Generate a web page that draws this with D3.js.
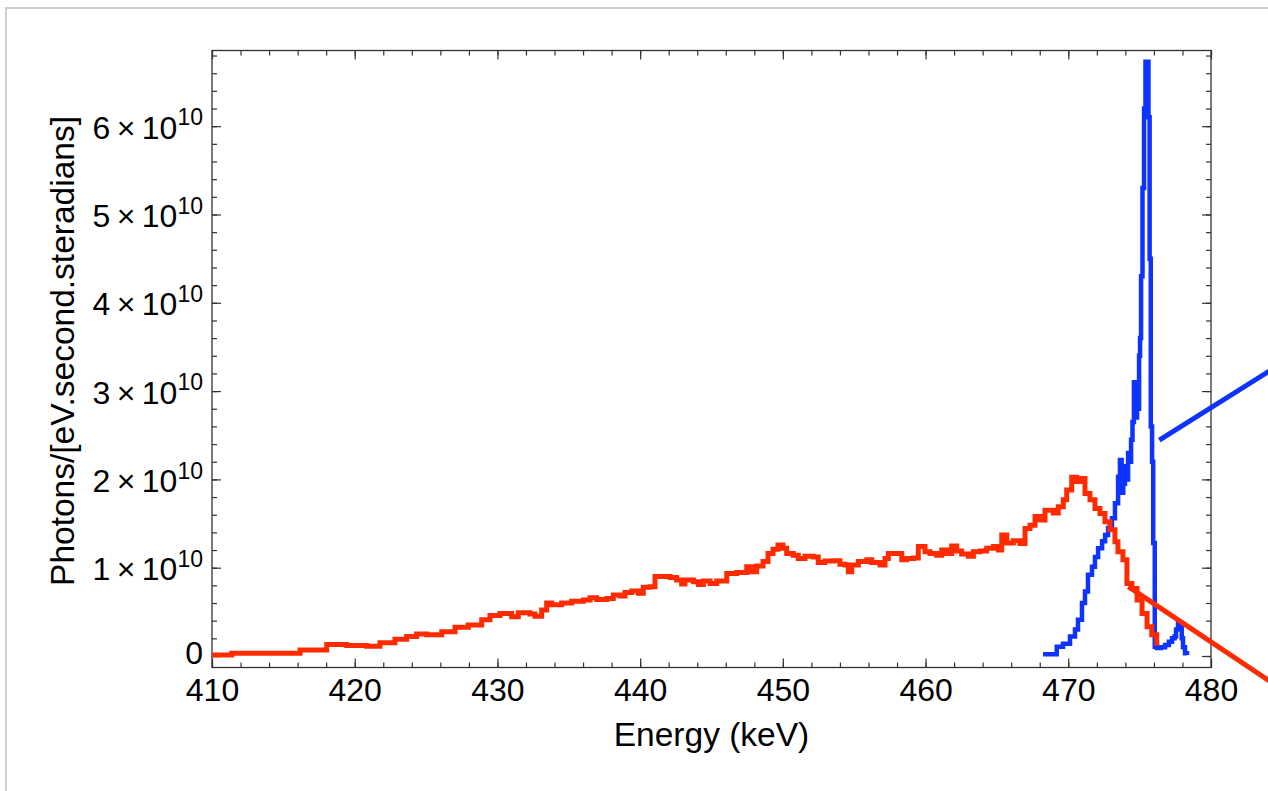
<!DOCTYPE html>
<html>
<head>
<meta charset="utf-8">
<script src="https://cdn.jsdelivr.net/npm/d3@7"></script>
<style>
  body { margin: 0; background: #fff; }
  svg { display: block; }
  text { font-family: "Liberation Sans", Arial, Helvetica, sans-serif; fill: #000; }
</style>
</head>
<body>
<svg id="chart" width="1268" height="791"></svg>
<script>
// ---- Data (photon intensities in units of 1e10 photons/[eV.second.steradians]) ----
// Broad spectrum: step histogram, each energy is the left edge of a bin (keV)
const redEnergy = [410.0, 411.38, 416.17, 418.04, 419.44, 420.84, 421.77, 422.82, 423.64, 424.34,
  425.04, 426.1, 427.03, 427.96, 428.9, 429.48, 430.18, 431.0, 431.46, 432.28,
  432.63, 433.1, 433.45, 433.8, 434.5, 435.2, 436.02, 436.49, 436.96, 437.66,
  438.12, 438.59, 438.94, 439.41, 439.87, 440.22, 440.69, 441.04, 442.09, 442.56,
  442.91, 443.14, 443.73, 444.08, 444.43, 444.9, 445.37, 446.07, 446.77, 447.47,
  447.82, 448.17, 448.61, 448.96, 449.31, 449.66, 450.01, 450.27, 450.73, 451.08,
  451.55, 452.13, 452.48, 452.95, 453.54, 454.0, 454.36, 454.59, 454.83, 455.29,
  455.88, 456.23, 456.81, 457.16, 457.39, 458.33, 458.68, 459.14, 459.49, 459.96,
  460.31, 460.78, 461.13, 461.48, 461.83, 462.18, 462.53, 463.0, 463.35, 463.81,
  464.28, 464.75, 465.1, 465.34, 465.69, 466.15, 466.62, 466.97, 467.32, 467.67,
  468.02, 468.37, 468.95, 469.3, 469.65, 469.89, 470.24, 470.59, 470.94, 471.17,
  471.52, 471.87, 472.22, 472.57, 472.92, 473.27, 473.48, 473.83, 474.11, 474.46,
  474.82, 475.17, 475.52, 475.85, 476.2];
const redPhotons = [0.01, 0.03, 0.068, 0.13, 0.12, 0.11, 0.15, 0.19, 0.22, 0.25,
  0.24, 0.275, 0.325, 0.35, 0.41, 0.46, 0.48, 0.445, 0.49, 0.475,
  0.45, 0.52, 0.6, 0.58, 0.6, 0.62, 0.635, 0.66, 0.64, 0.65,
  0.69, 0.68, 0.72, 0.735, 0.71, 0.78, 0.785, 0.9, 0.89, 0.86,
  0.815, 0.86, 0.84, 0.81, 0.85, 0.82, 0.85, 0.935, 0.945, 1.01,
  0.955, 1.02, 1.07, 1.16, 1.21, 1.257, 1.22, 1.16, 1.14, 1.105,
  1.13, 1.12, 1.06, 1.075, 1.08, 1.04, 1.03, 0.955, 1.03, 1.07,
  1.09, 1.06, 1.03, 1.105, 1.16, 1.09, 1.105, 1.11, 1.24, 1.18,
  1.16, 1.14, 1.2, 1.16, 1.245, 1.19, 1.155, 1.13, 1.18, 1.19,
  1.22, 1.24, 1.2, 1.37, 1.28, 1.305, 1.275, 1.445, 1.48, 1.58,
  1.54, 1.65, 1.62, 1.69, 1.77, 1.88, 2.025, 1.975, 2.01, 1.84,
  1.77, 1.67, 1.615, 1.52, 1.43, 1.295, 1.18, 1.09, 0.82, 0.765,
  0.635, 0.48, 0.33, 0.24, 0.12];

// Narrow spectrum near the upper edge
const blueEnergy = [468.23, 469.19, 469.63, 470.12, 470.47, 470.68, 470.96, 471.17, 471.38, 471.66,
  471.87, 472.09, 472.37, 472.58, 472.79, 473.06, 473.27, 473.49, 473.62, 473.74,
  473.85, 473.97, 474.1, 474.19, 474.3, 474.4, 474.5, 474.6, 474.7, 474.82,
  474.9, 474.96, 475.03, 475.1, 475.2, 475.31, 475.41, 475.55, 475.62, 475.7,
  475.78, 475.87, 475.95, 476.06, 476.22, 476.5, 476.78, 477.05, 477.27, 477.45,
  477.55, 477.69, 477.83, 477.95, 478.04, 478.18, 478.32];
const bluePhotons = [0.02, 0.105, 0.14, 0.22, 0.3, 0.41, 0.6, 0.73, 0.92, 1.01,
  1.12, 1.22, 1.3, 1.37, 1.45, 1.56, 1.73, 2.03, 2.22, 1.85,
  1.95, 2.15, 2.0, 2.3, 2.2, 2.45, 2.65, 3.1, 2.7, 3.1,
  2.8, 3.4, 3.6, 4.3, 5.3, 6.2, 6.73, 6.73, 6.1, 4.5,
  2.6, 2.2, 1.28, 0.105, 0.09, 0.1, 0.125, 0.16, 0.2, 0.22,
  0.3, 0.37, 0.37, 0.2, 0.1, 0.03, 0.01];

// Leader lines running off to the right of the frame: [energy, photons] end points
const blueLeader = [[476.38, 2.446], [485.0, 3.32]];
const redLeader = [[474.21, 0.785], [485.0, -0.38]];

// Axis ticks
const xMajorTicks = [410, 420, 430, 440, 450, 460, 470, 480];
const xMinorTicks = d3.range(410, 480.1, 2);
const yMajorTicks = [0, 1, 2, 3, 4, 5, 6];
const yMinorTicks = d3.range(0, 6.85, 0.2);
const yExponent = "10";

const xDomain = [410, 480];
const yDomain = [-0.1302, 6.857];

// ---- Layout ----
const svg = d3.select("#chart");
const plotLeft = 212, plotRight = 1211, plotTop = 50.5, plotBottom = 667.5;
const tickFont = 32, titleFont = 33.5;

const x = d3.scaleLinear().domain(xDomain).range([plotLeft, plotRight]);
const y = d3.scaleLinear().domain(yDomain).range([plotBottom, plotTop]);

// outer light frame
svg.append("rect")
  .attr("x", 6).attr("y", 8).attr("width", 1400).attr("height", 1000)
  .attr("fill", "none").attr("stroke", "#cfcfcf").attr("stroke-width", 2);

const axisColor = "#333";

function styleAxis(g) {
  g.select(".domain").remove();
  g.selectAll(".tick line").attr("stroke", axisColor).attr("stroke-width", 1.2);
}

// bottom axis
svg.append("g").attr("transform", `translate(0,${plotBottom})`)
  .call(d3.axisBottom(x).tickValues(xMinorTicks).tickSize(-5).tickFormat(""))
  .call(styleAxis);
const gxb = svg.append("g").attr("transform", `translate(0,${plotBottom})`)
  .call(d3.axisBottom(x).tickValues(xMajorTicks).tickSize(-9).tickPadding(11).tickFormat(d3.format("d")))
  .call(styleAxis);
gxb.selectAll(".tick text").attr("font-size", tickFont).attr("font-family", null);

// top axis (mirrored ticks, no labels)
svg.append("g").attr("transform", `translate(0,${plotTop})`)
  .call(d3.axisTop(x).tickValues(xMinorTicks).tickSize(-5).tickFormat(""))
  .call(styleAxis);
svg.append("g").attr("transform", `translate(0,${plotTop})`)
  .call(d3.axisTop(x).tickValues(xMajorTicks).tickSize(-9).tickFormat(""))
  .call(styleAxis);

// left axis
svg.append("g").attr("transform", `translate(${plotLeft},0)`)
  .call(d3.axisLeft(y).tickValues(yMinorTicks).tickSize(-5).tickFormat(""))
  .call(styleAxis);
const gyl = svg.append("g").attr("transform", `translate(${plotLeft},0)`)
  .call(d3.axisLeft(y).tickValues(yMajorTicks).tickSize(-9).tickPadding(9))
  .call(styleAxis);
gyl.selectAll(".tick text")
  .attr("font-size", tickFont).attr("font-family", null)
  .each(function (d) {
    const t = d3.select(this).text("");
    if (d === 0) {
      t.attr("dy", "0.24em").text("0");
    } else {
      t.attr("dy", "0.38em");
      t.append("tspan").text(`${d}\u2009\u00d7\u200910`);
      t.append("tspan").attr("font-size", 23).attr("dy", -13.5).text(yExponent);
    }
  });

// right axis (mirrored ticks, no labels)
svg.append("g").attr("transform", `translate(${plotRight},0)`)
  .call(d3.axisRight(y).tickValues(yMinorTicks).tickSize(-5).tickFormat(""))
  .call(styleAxis);
svg.append("g").attr("transform", `translate(${plotRight},0)`)
  .call(d3.axisRight(y).tickValues(yMajorTicks).tickSize(-9).tickFormat(""))
  .call(styleAxis);

// plot frame
svg.append("rect")
  .attr("x", plotLeft).attr("y", plotTop)
  .attr("width", plotRight - plotLeft).attr("height", plotBottom - plotTop)
  .attr("fill", "none").attr("stroke", axisColor).attr("stroke-width", 1.3);

// ---- Series ----
const stepLine = d3.line()
  .x(d => x(d[0]))
  .y(d => y(d[1]))
  .curve(d3.curveStepAfter);

const blueData = d3.zip(blueEnergy, bluePhotons);
const redData = d3.zip(redEnergy, redPhotons);

svg.append("path")
  .datum(blueData)
  .attr("d", stepLine)
  .attr("fill", "none")
  .attr("stroke", "#0f33ff")
  .attr("stroke-width", 4.5)
  .attr("stroke-linejoin", "miter");

svg.append("path")
  .datum(redData)
  .attr("d", stepLine)
  .attr("fill", "none")
  .attr("stroke", "#ff2a00")
  .attr("stroke-width", 5)
  .attr("stroke-linejoin", "miter");

// leader lines
const straight = d3.line().x(d => x(d[0])).y(d => y(d[1]));
svg.append("path").datum(blueLeader).attr("d", straight)
  .attr("fill", "none").attr("stroke", "#0f33ff").attr("stroke-width", 5);
svg.append("path").datum(redLeader).attr("d", straight)
  .attr("fill", "none").attr("stroke", "#ff2a00").attr("stroke-width", 5);

// ---- Axis titles ----
svg.append("text")
  .attr("x", (plotLeft + plotRight) / 2).attr("y", 746)
  .attr("text-anchor", "middle")
  .attr("font-size", titleFont)
  .text("Energy (keV)");

svg.append("text")
  .attr("transform", "translate(74,351) rotate(-90)")
  .attr("text-anchor", "middle")
  .attr("font-size", titleFont)
  .text("Photons/[eV.second.steradians]");
</script>
</body>
</html>
